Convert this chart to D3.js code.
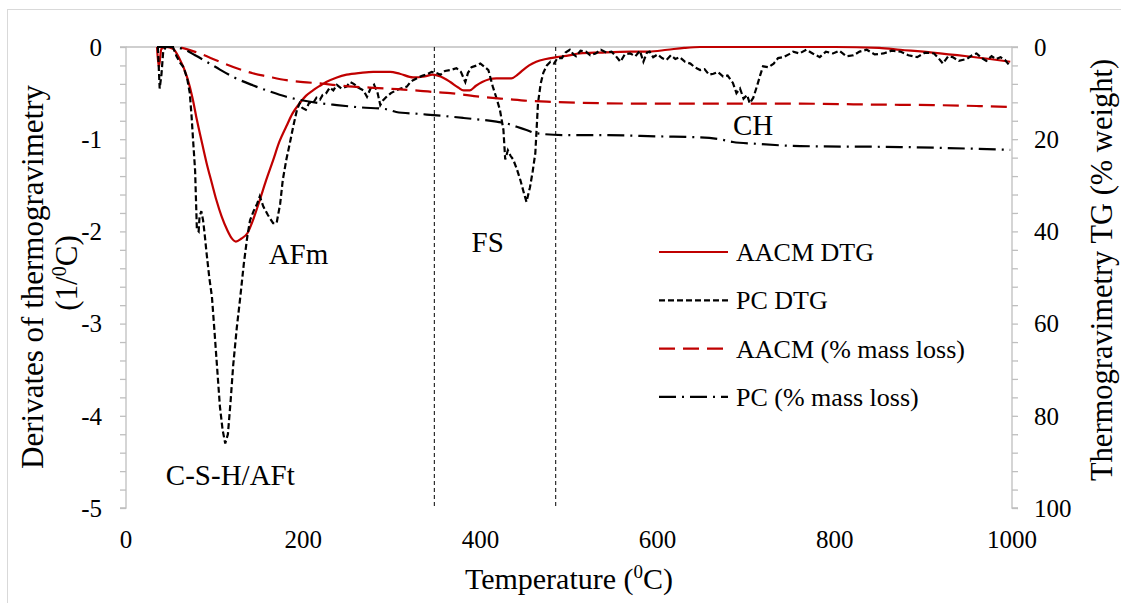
<!DOCTYPE html>
<html>
<head>
<meta charset="utf-8">
<script src="https://cdn.jsdelivr.net/npm/d3@7"></script>
<style>
    body { margin: 0; background: #fff; }
    text { font-family: "Liberation Serif", "Times New Roman", serif; fill: #000; }
</style>
</head>
<body>
<div class="chart"></div>
<script>
//temperatures and values, one pair of arrays per curve
var aacmDtgT = [35, 37, 40, 45, 53, 60, 69, 75, 80, 86, 91, 97, 102, 108, 114, 119, 124, 130, 137, 144, 151, 158, 166, 173, 181, 188, 196, 203, 211, 219, 226, 238, 249, 265, 279, 298, 309, 324, 337, 346, 355, 366, 375, 381, 388, 395, 402, 410, 418, 435, 442, 448, 455, 463, 474, 486, 500, 512, 535, 569, 590, 611, 630, 648, 700, 800, 850, 874, 910, 949, 975, 998];
var aacmDtgV = [0, -0.22, -0.02, 0, -0.02, -0.12, -0.33, -0.55, -0.79, -1.05, -1.26, -1.48, -1.66, -1.84, -1.98, -2.07, -2.11, -2.08, -2.02, -1.86, -1.66, -1.45, -1.23, -1.03, -0.86, -0.72, -0.61, -0.53, -0.47, -0.42, -0.38, -0.33, -0.30, -0.28, -0.27, -0.27, -0.29, -0.33, -0.32, -0.30, -0.32, -0.38, -0.44, -0.47, -0.47, -0.42, -0.38, -0.35, -0.34, -0.34, -0.30, -0.25, -0.20, -0.16, -0.13, -0.11, -0.09, -0.07, -0.06, -0.05, -0.05, -0.03, -0.01, 0, 0, 0, -0.01, -0.03, -0.06, -0.10, -0.13, -0.16];

var pcDtgT = [36, 38, 40, 42, 45, 53, 57, 61, 65, 69, 72, 74, 76, 78, 80, 82, 83, 85, 87, 89, 91, 94, 97, 100, 103, 106, 109, 112, 115, 118, 121, 125, 129, 133, 137, 140, 144, 148, 151, 155, 160, 166, 170, 174, 177, 181, 185, 189, 193, 196, 199, 203, 207, 211, 215, 219, 222, 226, 230, 234, 238, 243, 249, 253, 257, 262, 268, 272, 276, 280, 284, 287, 290, 294, 299, 305, 310, 317, 321, 324, 330, 335, 339, 345, 350, 355, 360, 366, 373, 378, 383, 386, 390, 396, 400, 404, 409, 414, 418, 422, 426, 428, 431, 434, 437, 441, 445, 449, 452, 456, 459, 462, 465, 468, 471, 475, 479, 483, 487, 492, 496, 501, 505, 508, 513, 519, 524, 530, 536, 542, 548, 553, 558, 563, 569, 575, 580, 584, 588, 591, 595, 600, 605, 610, 615, 620, 625, 631, 637, 642, 648, 653, 658, 663, 668, 674, 679, 685, 689, 693, 697, 701, 704, 708, 712, 716, 719, 725, 731, 736, 742, 748, 753, 760, 768, 775, 783, 790, 798, 805, 813, 821, 828, 836, 845, 855, 864, 874, 883, 893, 902, 912, 917, 922, 928, 933, 940, 949, 955, 960, 966, 971, 977, 982, 987, 992, 998];
var pcDtgV = [0, -0.45, -0.3, -0.05, 0, 0, -0.1, -0.17, -0.22, -0.34, -0.5, -0.75, -1.05, -1.34, -1.98, -2.0, -1.84, -1.78, -1.88, -2.05, -2.24, -2.5, -2.71, -3.1, -3.5, -3.9, -4.15, -4.3, -4.2, -3.85, -3.45, -3.05, -2.71, -2.35, -2.05, -1.88, -1.78, -1.7, -1.62, -1.73, -1.82, -1.91, -1.91, -1.7, -1.44, -1.22, -1.04, -0.85, -0.68, -0.61, -0.66, -0.68, -0.6, -0.61, -0.55, -0.57, -0.52, -0.5, -0.44, -0.47, -0.41, -0.45, -0.43, -0.38, -0.4, -0.44, -0.47, -0.54, -0.45, -0.41, -0.5, -0.63, -0.58, -0.54, -0.5, -0.47, -0.45, -0.43, -0.38, -0.36, -0.33, -0.31, -0.3, -0.27, -0.28, -0.3, -0.26, -0.25, -0.23, -0.27, -0.38, -0.28, -0.22, -0.2, -0.18, -0.21, -0.25, -0.43, -0.55, -0.68, -0.9, -1.22, -1.12, -1.18, -1.22, -1.32, -1.44, -1.58, -1.68, -1.52, -1.35, -1.15, -0.61, -0.4, -0.28, -0.2, -0.16, -0.18, -0.12, -0.12, -0.06, -0.03, -0.08, -0.1, -0.04, -0.05, -0.09, -0.07, -0.03, -0.06, -0.05, -0.1, -0.16, -0.08, -0.07, -0.1, -0.04, -0.16, -0.06, -0.05, -0.11, -0.08, -0.12, -0.14, -0.09, -0.13, -0.11, -0.16, -0.18, -0.22, -0.25, -0.24, -0.3, -0.29, -0.27, -0.32, -0.31, -0.39, -0.5, -0.45, -0.56, -0.52, -0.61, -0.55, -0.43, -0.3, -0.21, -0.22, -0.18, -0.12, -0.11, -0.08, -0.05, -0.07, -0.03, -0.07, -0.11, -0.05, -0.07, -0.04, -0.1, -0.09, -0.05, -0.03, -0.08, -0.07, -0.04, -0.05, -0.09, -0.11, -0.06, -0.07, -0.12, -0.18, -0.1, -0.11, -0.15, -0.13, -0.09, -0.07, -0.12, -0.15, -0.1, -0.13, -0.11, -0.14, -0.21];

var aacmTgT = [35, 50, 63, 80, 106, 125, 143, 160, 181, 200, 219, 238, 256, 275, 294, 313, 332, 350, 366, 400, 430, 456, 480, 512, 535, 603, 700, 761, 850, 911, 960, 998];
var aacmTgV = [0, 0, 0.2, 1.2, 3.2, 4.6, 5.7, 6.4, 7.2, 7.6, 7.9, 8.3, 8.6, 8.8, 9.0, 9.25, 9.5, 9.8, 10.0, 10.8, 11.3, 11.7, 11.9, 12.1, 12.2, 12.3, 12.3, 12.3, 12.5, 12.6, 12.8, 13.0];

var pcTgT = [35, 50, 64, 78, 91, 106, 121, 143, 160, 181, 200, 219, 238, 265, 294, 305, 330, 366, 381, 418, 430, 441, 452, 463, 494, 535, 603, 648, 670, 685, 712, 761, 874, 998];
var pcTgV = [0, 0, 0.4, 1.8, 3.2, 4.9, 6.5, 8.3, 9.5, 10.8, 11.6, 12.2, 12.6, 13.1, 13.5, 14.1, 14.5, 15.1, 15.4, 16.2, 16.6, 17.3, 18.0, 18.7, 19.1, 19.1, 19.4, 19.6, 20.0, 20.6, 21.0, 21.5, 21.7, 22.3];

//temperatures of the two dashed separators
var markerT = [348, 485];

//tick labels
var xTicks = [0, 200, 400, 600, 800, 1000];
var leftTicks = [0, -1, -2, -3, -4, -5];
var rightTicks = [0, 20, 40, 60, 80, 100];

//peak labels
var peakNames = ["C-S-H/AFt", "AFm", "FS", "CH"];
var peakT = [45, 161, 390, 685];
var peakV = [-4.75, -2.35, -2.22, -0.95];

var legendNames = ["AACM DTG", "PC DTG", "AACM (% mass loss)", "PC (% mass loss)"];

drawChart();

function drawChart() {
    var width = 1121;
    var height = 603;
    var left = 126, right = 1012, top = 47, bottom = 508;
    var axisGrey = "#bfbfbf";
    var red = "#c00000";

    var svg = d3.select('.chart')
        .append('svg')
        .attr('width', width)
        .attr('height', height);

    //chart border
    svg.append('rect')
        .attr('x', 7.5).attr('y', 9.5)
        .attr('width', 1120).attr('height', 600)
        .attr('fill', 'none')
        .attr('stroke', '#d9d9d9');

    var x = d3.scaleLinear().domain([0, 1000]).range([left, right]);
    var yL = d3.scaleLinear().domain([-5, 0]).range([bottom, top]);
    var yR = d3.scaleLinear().domain([0, 100]).range([top, bottom]);

    //minor ticks every 0.2 on the left and every 4 on the right
    var leftAxis = d3.axisLeft(yL).tickValues(d3.range(0, 26).map(function(i) { return -i * 0.2; }))
        .tickSize(6).tickFormat('');
    var rightAxis = d3.axisRight(yR).tickValues(d3.range(0, 26).map(function(i) { return i * 4; }))
        .tickSize(6).tickFormat('');

    var gl = svg.append('g').attr('transform', 'translate(' + left + ',0)').call(leftAxis);
    var gr = svg.append('g').attr('transform', 'translate(' + right + ',0)').call(rightAxis);
    [gl, gr].forEach(function(g) {
        g.selectAll('path,line').attr('stroke', axisGrey).attr('stroke-width', 1.3);
        g.select('.domain').attr('d', function() {
            return g === gl ? 'M-6,' + bottom + 'H0V' + top + 'H-6' : 'M6,' + top + 'H0V' + bottom + 'H6';
        });
    });

    //the horizontal axis crosses at zero, which is the top
    svg.append('line')
        .attr('x1', left).attr('x2', right)
        .attr('y1', top).attr('y2', top)
        .attr('stroke', axisGrey).attr('stroke-width', 1.3);

    //tick labels
    svg.selectAll('.lt').data(leftTicks).enter().append('text')
        .attr('x', 102).attr('y', function(d) { return yL(d); })
        .attr('dy', '0.35em').attr('text-anchor', 'end').attr('font-size', 25)
        .text(function(d) { return d; });
    svg.selectAll('.rt').data(rightTicks).enter().append('text')
        .attr('x', 1034).attr('y', function(d) { return yR(d); })
        .attr('dy', '0.35em').attr('font-size', 25)
        .text(function(d) { return d; });
    svg.selectAll('.xt').data(xTicks).enter().append('text')
        .attr('x', function(d) { return x(d); }).attr('y', 539)
        .attr('dy', '0.35em').attr('text-anchor', 'middle').attr('font-size', 25)
        .text(function(d) { return d; });

    //axis titles
    svg.append('text')
        .attr('transform', 'translate(43,277) rotate(-90)')
        .attr('text-anchor', 'middle').attr('font-size', 31)
        .text('Derivates of thermogravimetry');
    var t2 = svg.append('text')
        .attr('transform', 'translate(77,273) rotate(-90)')
        .attr('text-anchor', 'middle').attr('font-size', 31);
    t2.append('tspan').text('(1/');
    t2.append('tspan').attr('font-size', 20).attr('dy', -11).text('0');
    t2.append('tspan').attr('dy', 11).text('C)');

    svg.append('text')
        .attr('transform', 'translate(1112,270) rotate(-90)')
        .attr('text-anchor', 'middle').attr('font-size', 30.5)
        .text('Thermogravimetry TG (% weight)');

    var xt = svg.append('text')
        .attr('x', 569).attr('y', 589)
        .attr('text-anchor', 'middle').attr('font-size', 30);
    xt.append('tspan').text('Temperature (');
    xt.append('tspan').attr('font-size', 19).attr('dy', -11).text('0');
    xt.append('tspan').attr('dy', 11).text('C)');

    //dashed separators
    svg.selectAll('.sep').data(markerT).enter().append('line')
        .attr('x1', function(d) { return x(d); }).attr('x2', function(d) { return x(d); })
        .attr('y1', top).attr('y2', bottom)
        .attr('stroke', '#000').attr('stroke-width', 1)
        .attr('stroke-dasharray', '4,3');

    //series: arrays zipped into points
    function zip(ts, vs) {
        return ts.map(function(t, i) { return [t, vs[i]]; });
    }
    var series = [
        { pts: zip(aacmDtgT, aacmDtgV), y: yL, color: red, dash: null, curve: d3.curveMonotoneX },
        { pts: zip(pcDtgT, pcDtgV), y: yL, color: '#000', dash: '6,3', curve: d3.curveLinear },
        { pts: zip(aacmTgT, aacmTgV), y: yR, color: red, dash: '16,8', curve: d3.curveMonotoneX },
        { pts: zip(pcTgT, pcTgV), y: yR, color: '#000', dash: '17,6,2,6', curve: d3.curveMonotoneX }
    ];

    series.forEach(function(s) {
        var line = d3.line()
            .x(function(d) { return x(d[0]); })
            .y(function(d) { return s.y(d[1]); })
            .curve(s.curve);
        svg.append('path')
            .datum(s.pts)
            .attr('d', line)
            .attr('fill', 'none')
            .attr('stroke', s.color)
            .attr('stroke-width', 2.2)
            .attr('stroke-dasharray', s.dash);
    });

    //peak labels
    svg.selectAll('.peak').data(peakNames).enter().append('text')
        .attr('x', function(d, i) { return x(peakT[i]); })
        .attr('y', function(d, i) { return yL(peakV[i]); })
        .attr('font-size', 29)
        .text(function(d) { return d; });

    //legend
    var legend = svg.selectAll('.leg').data(legendNames).enter().append('g')
        .attr('transform', function(d, i) { return 'translate(659,' + (252 + i * 48.3) + ')'; });
    legend.append('line')
        .attr('x1', 0).attr('x2', 69)
        .attr('stroke', function(d, i) { return series[i].color; })
        .attr('stroke-width', 2.2)
        .attr('stroke-dasharray', function(d, i) { return series[i].dash; });
    legend.append('text')
        .attr('x', 77).attr('dy', '0.35em').attr('font-size', 26)
        .text(function(d) { return d; });
}
</script>
</body>
</html>
